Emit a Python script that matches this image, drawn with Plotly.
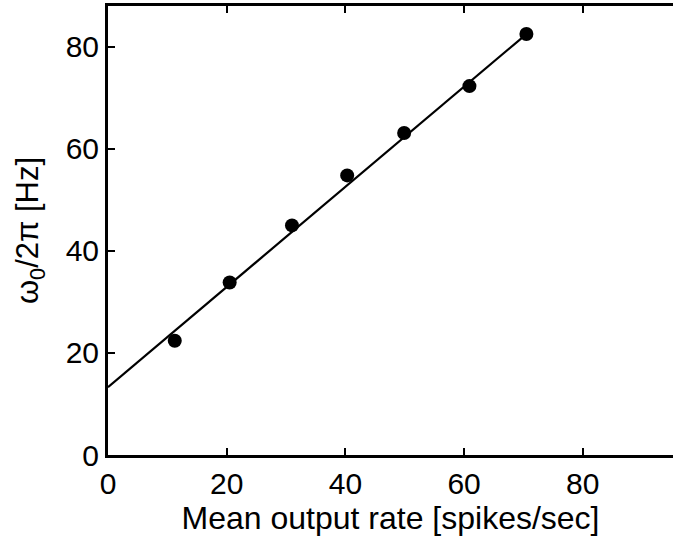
import plotly.graph_objects as go

# Measured resonance frequency versus mean output rate
rate = [11.25, 20.5, 31.0, 40.3, 49.9, 60.9, 70.5]
omega0 = [22.4, 33.8, 45.0, 54.8, 63.1, 72.3, 82.5]

# Linear fit endpoints
fit_rate = [0.0, 70.5]
fit_omega = [13.3, 82.5]

x_ticks = [0, 20, 40, 60, 80]
y_ticks = [0, 20, 40, 60, 80]

FONT = "Liberation Sans, Arial, Helvetica, sans-serif"

fig = go.Figure()
fig.add_trace(go.Scatter(
    x=fit_rate, y=fit_omega, mode="lines",
    line=dict(color="black", width=2.2), showlegend=False,
))
fig.add_trace(go.Scatter(
    x=rate, y=omega0, mode="markers",
    marker=dict(color="black", size=14), showlegend=False,
))

fig.update_layout(
    width=673, height=537,
    margin=dict(l=108, r=0, t=6, b=82),
    paper_bgcolor="white", plot_bgcolor="white",
    font=dict(family=FONT, size=30, color="black"),
    xaxis=dict(
        range=[0, 95.2], tickvals=x_ticks, ticks="inside", ticklen=7,
        tickwidth=1.5, tickcolor="black",
        tickfont=dict(family=FONT, size=30, color="black"),
        showline=True, linecolor="black", linewidth=3, mirror="ticks",
        showgrid=False, zeroline=False,
        title=dict(text="Mean output rate [spikes/sec]", standoff=4,
                   font=dict(family=FONT, size=32, color="black")),
    ),
    yaxis=dict(
        range=[0, 88], tickvals=y_ticks, ticks="inside", ticklen=7,
        tickwidth=1.5, tickcolor="black",
        tickfont=dict(family=FONT, size=30, color="black"),
        showline=True, linecolor="black", linewidth=3, mirror=False,
        showgrid=False, zeroline=False,
        title=dict(text="ω<sub>0</sub>/2π [Hz]", standoff=18,
                   font=dict(family=FONT, size=31, color="black")),
    ),
)

fig.write_html("out.html")
